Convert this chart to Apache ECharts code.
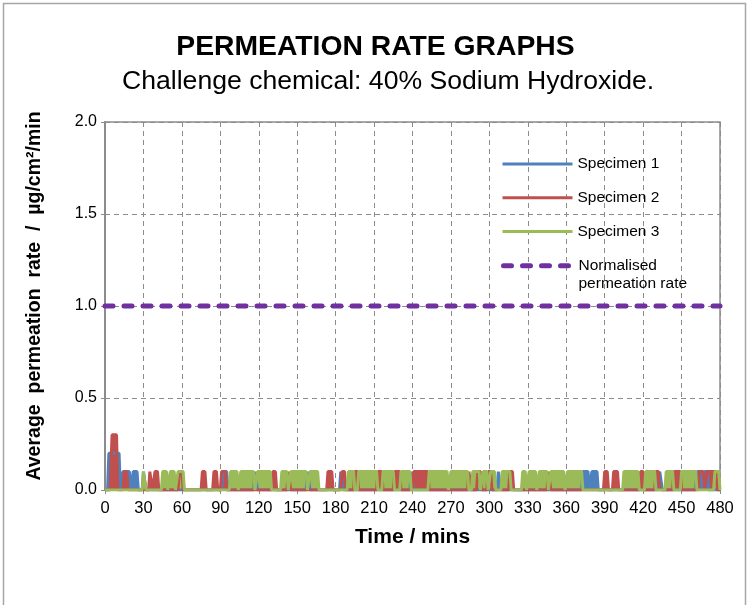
<!DOCTYPE html>
<html>
<head>
<meta charset="utf-8">
<script src="https://cdn.jsdelivr.net/npm/echarts@6/dist/echarts.min.js"></script>
<style>
html,body{margin:0;padding:0;background:#fff;}
#chart{width:751px;height:605px;}
</style>
</head>
<body>
<div id="chart"></div>
<script>
// ---- data (time in minutes, rate in µg/cm²/min) ----
const xTicks = [0,30,60,90,120,150,180,210,240,270,300,330,360,390,420,450,480];
const yTicks = [0.0,0.5,1.0,1.5,2.0];
const seriesNames = ['Specimen 1','Specimen 2','Specimen 3','Normalised\npermeation rate'];
const pulseLevel = 0.1;

// initial peaks: [time, value]
const spec1Peak = [[0,0],[2,0],[3,0.2],[11,0.2],[12,0]];
const spec2Peak = [[0,0],[4,0],[5.5,0.3],[9,0.3],[10,0]];
const spec3Peak = [[0,0]];

// intervals [start, end] (minutes) where the reading was 0.1
const spec1Pulses = [[13,19],[21,25],[29,31],[91,95],[116,118],[157,159],[183,185],[238,240],[306,308],[372,377],[379,384],[432,434],[461,465],[467,470]];
const spec2Pulses = [[14,17],[34,36],[38,41],[57,60],[75,78],[84,87],[90,94],[130,133],[142,144],[173,177],[184,187],[194,197],[212,216],[225,230],[240,252],[283,285],[290,293],[298,301],[315,318],[345,347],[389,392],[396,400],[417,420],[429,432],[443,449],[463,467],[469,477]];
const spec3Pulses = [[29,31],[44,48],[50,54],[56,61],[97,103],[105,116],[118,129],[137,142],[144,157],[159,166],[189,194],[197,212],[216,225],[230,238],[252,267],[269,283],[286,292],[294,298],[300,304],[309,316],[325,328],[330,336],[338,345],[347,358],[360,372],[404,416],[421,429],[437,443],[449,461],[475,479]];
const normalisedRate = [[0,1.0],[480,1.0]];
const endTime = 480;

function buildSeries(peak, pulses){
  const pts = peak.slice();
  pulses.forEach(function(p){
    pts.push([p[0],0],[p[0]+1,pulseLevel],[p[1],pulseLevel],[p[1]+1,0]);
  });
  const last = pts[pts.length-1][0];
  if (last < endTime) pts.push([endTime,0]);
  return pts;
}

const colors = ['#4F81BD','#C0504D','#9BBB59','#7030A0'];
const FONT = 'Liberation Sans, Arial, sans-serif';

const chart = echarts.init(document.getElementById('chart'), null, {renderer:'canvas'});
const lineSeries = function(name, data, color){
  return {name:name, type:'line', data:data, symbol:'none', showSymbol:false,
    lineStyle:{color:color, width:3}, itemStyle:{color:color},
    areaStyle:{color:color, opacity:1}, animation:false, silent:true};
};
const legendBase = {
  orient:'vertical', left:501, padding:0, itemWidth:70, itemHeight:14, itemGap:15.7,
  itemStyle:{opacity:0, borderWidth:0},
  lineStyle:{width:'inherit'},
  textStyle:{fontFamily:FONT, fontSize:15.5, color:'#000', lineHeight:18}
};

chart.setOption({
  backgroundColor:'#fff',
  animation:false,
  title:[
    {text:'PERMEATION RATE GRAPHS', left:'center', top:28,
     textStyle:{fontFamily:FONT, fontSize:28.3, fontWeight:'bold', color:'#000'}},
    {text:'Challenge chemical: 40% Sodium Hydroxide.', left:117, top:63,
     textStyle:{fontFamily:FONT, fontSize:26.6, fontWeight:'normal', color:'#000'}}
  ],
  graphic:[{type:'rect', shape:{x:3.5,y:3.5,width:742,height:640}, style:{fill:'none', stroke:'#a6a6a6', lineWidth:1.5}, silent:true, z:-1}],
  legend:[
    Object.assign({}, legendBase, {top:155,
      data:[{name:seriesNames[0]},{name:seriesNames[1]},{name:seriesNames[2]}]}),
    Object.assign({}, legendBase, {top:238.7,
      formatter:function(name){ return '\n' + name; },
      data:[{name:seriesNames[3]}]})
  ],
  grid:{left:105, right:31, top:122, bottom:115, show:true, borderColor:'#8c8c8c', borderWidth:1.5, backgroundColor:'transparent'},
  xAxis:{
    type:'value', min:xTicks[0], max:xTicks[xTicks.length-1], interval:30,
    name:'Time / mins', nameLocation:'middle', nameGap:37,
    nameTextStyle:{fontFamily:FONT, fontSize:21, fontWeight:'bold', color:'#000'},
    axisLine:{show:true, lineStyle:{color:'#8c8c8c', width:1.5}},
    axisTick:{show:true, length:4, lineStyle:{color:'#8c8c8c'}},
    axisLabel:{fontFamily:FONT, fontSize:16.5, color:'#000', margin:10},
    splitLine:{show:true, lineStyle:{color:'#8c8c8c', type:[5,4], width:1}}
  },
  yAxis:{
    type:'value', min:yTicks[0], max:yTicks[yTicks.length-1], interval:0.5,
    name:'Average  permeation  rate  /  µg/cm²/min', nameLocation:'middle', nameGap:60, nameRotate:90,
    nameTextStyle:{fontFamily:FONT, fontSize:19.5, fontWeight:'bold', color:'#000', padding:[0,0,0,20]},
    axisLine:{show:true, lineStyle:{color:'#8c8c8c', width:2}},
    axisTick:{show:true, length:4, lineStyle:{color:'#8c8c8c'}},
    axisLabel:{fontFamily:FONT, fontSize:16, color:'#000', margin:8, formatter:function(v){return v.toFixed(1);}},
    splitLine:{show:true, lineStyle:{color:'#8c8c8c', type:[5,4], width:1}}
  },
  series:[
    lineSeries(seriesNames[0], buildSeries(spec1Peak, spec1Pulses), colors[0]),
    lineSeries(seriesNames[1], buildSeries(spec2Peak, spec2Pulses), colors[1]),
    lineSeries(seriesNames[2], buildSeries(spec3Peak, spec3Pulses), colors[2]),
    {name:seriesNames[3], type:'line', data:normalisedRate, symbol:'none', showSymbol:false, silent:true,
     lineStyle:{color:colors[3], width:5, type:[8,11], cap:'round'}, itemStyle:{color:colors[3]}}
  ]
});
</script>
</body>
</html>
